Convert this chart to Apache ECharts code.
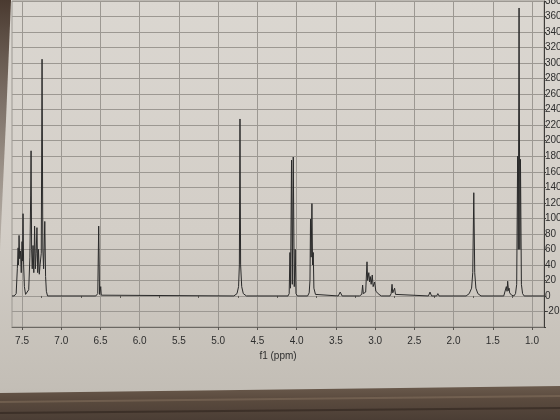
<!DOCTYPE html>
<html>
<head>
<meta charset="utf-8">
<script src="https://cdn.jsdelivr.net/npm/echarts@6/dist/echarts.min.js"></script>
<style>
html,body{margin:0;padding:0;background:#cfcac3;}
#chart{width:560px;height:420px;}
</style>
</head>
<body>
<div id="chart"></div>
<script>
// Chemical shift (ppm) of each point of the trace
const shiftPpm = [
  7.628, 7.60, 7.575, 7.56, 7.55, 7.545, 7.538, 7.53, 7.52, 7.51, 7.50, 7.495, 7.487, 7.48, 7.47, 7.455, 7.44,
  7.43, 7.415, 7.40, 7.39, 7.385, 7.378, 7.37, 7.36, 7.35, 7.34, 7.33, 7.32, 7.31, 7.30, 7.29, 7.28, 7.27, 7.255, 7.245, 7.235, 7.225, 7.21, 7.20, 7.19, 7.175,
  6.56, 6.535, 6.523, 6.512, 6.505, 6.497, 6.49, 6.47,
  4.80, 4.76, 4.74, 4.73, 4.722, 4.714, 4.70, 4.68, 4.64,
  4.11, 4.095, 4.085, 4.078, 4.065, 4.055, 4.043, 4.03, 4.018, 4.008, 3.99,
  3.86, 3.84, 3.83, 3.823, 3.815, 3.805, 3.797, 3.788, 3.78, 3.76, 3.74,
  3.47, 3.445, 3.42,
  3.20, 3.17, 3.159, 3.15, 3.12, 3.103, 3.095, 3.08, 3.07, 3.061, 3.05, 3.036, 3.025, 3.006, 2.99, 2.968, 2.95, 2.92,
  2.81, 2.795, 2.784, 2.775, 2.762, 2.751, 2.74, 2.72,
  2.32, 2.30, 2.28, 2.215, 2.20, 2.185,
  1.84, 1.80, 1.77, 1.755, 1.742, 1.73, 1.715, 1.69, 1.65,
  1.36, 1.34, 1.327, 1.318, 1.31, 1.30, 1.292, 1.285, 1.276, 1.26, 1.24,
  1.23, 1.21, 1.195, 1.183, 1.175, 1.165, 1.155, 1.147, 1.135, 1.12, 1.10,
  0.847
];
// Intensity at each of those points
const intensity = [
  0, 0, 3, 35, 62, 40, 78, 48, 58, 30, 70, 45, 106, 40, 12, 2, 0,
  0, 8, 50, 130, 187, 60, 35, 65, 30, 90, 35, 55, 88, 30, 60, 28, 40, 55, 305, 60, 35, 96, 25, 6, 0,
  0, 3, 90, 2, 4, 12, 1, 0,
  0, 3, 12, 40, 228, 40, 12, 3, 0,
  0, 3, 56, 10, 175, 15, 179, 12, 60, 3, 0,
  0, 4, 20, 99, 50, 119, 40, 56, 10, 2, 0,
  0, 5, 0,
  0, 2, 14, 3, 5, 44, 20, 30, 18, 25, 15, 27, 12, 18, 6, 6, 2, 0,
  0, 3, 15, 4, 3, 10, 2, 0,
  0, 5, 0, 0, 3, 0,
  0, 3, 10, 30, 133, 30, 10, 3, 0,
  0, 2, 12, 6, 19, 7, 10, 4, 5, 1, 0,
  0, 3, 15, 180, 60, 371, 60, 176, 15, 3, 0,
  0
];
// x tick labels (ppm) and minor tick positions
const xLabelValues = [7.5, 7.0, 6.5, 6.0, 5.5, 5.0, 4.5, 4.0, 3.5, 3.0, 2.5, 2.0, 1.5, 1.0];
const xMinorTickValues = [7.25, 6.75, 6.25, 5.75, 5.25, 4.75, 4.25, 3.75, 3.25, 2.75, 2.25, 1.75, 1.25];
// x and y axis ranges
const xRange = [0.847, 7.628];
const yRange = [-40, 380];
const yStep = 20;
const xName = 'f1 (ppm)';

const FONT = "'Liberation Sans', Arial, sans-serif";
const chart = echarts.init(document.getElementById('chart'), null, {renderer: 'canvas'});

const traceData = shiftPpm.map((p, i) => [p, intensity[i]]);

const option = {
  animation: false,
  backgroundColor: 'transparent',
  graphic: [
    {
      type: 'rect', z: -100, silent: true,
      shape: {x: 0, y: 0, width: 560, height: 420},
      style: {fill: {type: 'linear', x: 0, y: 0, x2: 0, y2: 1,
        colorStops: [{offset: 0, color: '#dbd7d1'}, {offset: 0.55, color: '#d3cec7'}, {offset: 0.92, color: '#c3beb6'}, {offset: 1, color: '#bcb7af'}]}}
    },
    {
      type: 'polygon', z: -90, silent: true,
      shape: {points: [[0, 0], [11, 0], [6, 120], [0, 250]]},
      style: {fill: {type: 'linear', x: 0, y: 0, x2: 0, y2: 1,
        colorStops: [{offset: 0, color: '#4a3a30'}, {offset: 1, color: 'rgba(90,75,62,0.2)'}]}}
    },
    {
      type: 'polygon', z: -90, silent: true,
      shape: {points: [[0, 393], [560, 386], [560, 420], [0, 420]]},
      style: {fill: {type: 'linear', x: 0, y: 0, x2: 0, y2: 1,
        colorStops: [{offset: 0, color: '#6a5a4c'}, {offset: 0.4, color: '#5a4a3e'}, {offset: 1, color: '#4b3e35'}]}}
    },
    {
      type: 'polyline', z: -80, silent: true,
      shape: {points: [[0, 402], [560, 396]]},
      style: {stroke: 'rgba(140,120,100,0.45)', lineWidth: 2}
    },
    {
      type: 'polyline', z: -80, silent: true,
      shape: {points: [[0, 413], [560, 408]]},
      style: {stroke: 'rgba(40,30,24,0.5)', lineWidth: 2}
    }
  ],
  grid: {
    left: 12, right: 16, top: 1, bottom: 93,
    outerBoundsMode: 'none', containLabel: false,
    show: true, borderColor: '#9c9892', borderWidth: 1, backgroundColor: 'transparent'
  },
  xAxis: [
    {
      type: 'value', inverse: true, min: xRange[0], max: xRange[1],
      position: 'bottom',
      name: xName, nameLocation: 'middle', nameGap: 15,
      nameTextStyle: {color: '#2e2e2e', fontFamily: FONT, fontSize: 10, verticalAlign: 'top'},
      axisLine: {show: true, onZero: false, lineStyle: {color: '#6b6863', width: 1}},
      axisTick: {show: true, length: 3, customValues: xLabelValues, lineStyle: {color: '#5a5752'}},
      axisLabel: {customValues: xLabelValues, margin: 9, color: '#2e2e2e', fontFamily: FONT, fontSize: 10,
        formatter: v => Number(v).toFixed(1)},
      splitLine: {show: true, lineStyle: {color: '#9c9892', width: 1}}
    },
    {
      type: 'value', inverse: true, min: xRange[0], max: xRange[1],
      position: 'bottom',
      axisLine: {show: false},
      axisTick: {show: true, length: 2, customValues: xMinorTickValues, lineStyle: {color: '#5a5752'}},
      axisLabel: {show: false},
      splitLine: {show: false}
    }
  ],
  yAxis: {
    type: 'value', position: 'right', min: yRange[0], max: yRange[1], interval: yStep,
    axisLine: {show: true, onZero: false, lineStyle: {color: '#3e3c39', width: 1}},
    axisTick: {show: true, length: 2, lineStyle: {color: '#3e3c39'}},
    axisLabel: {margin: 1, color: '#2e2e2e', fontFamily: FONT, fontSize: 10,
      formatter: v => (v === yRange[0] ? '' : String(v))},
    splitLine: {show: true, lineStyle: {color: '#9c9892', width: 1}}
  },
  series: [{
    type: 'line',
    xAxisIndex: 0,
    data: traceData,
    showSymbol: false,
    symbol: 'none',
    smooth: false,
    lineStyle: {color: '#2a2a2a', width: 1},
    z: 5
  }]
};
chart.setOption(option);
</script>
</body>
</html>
